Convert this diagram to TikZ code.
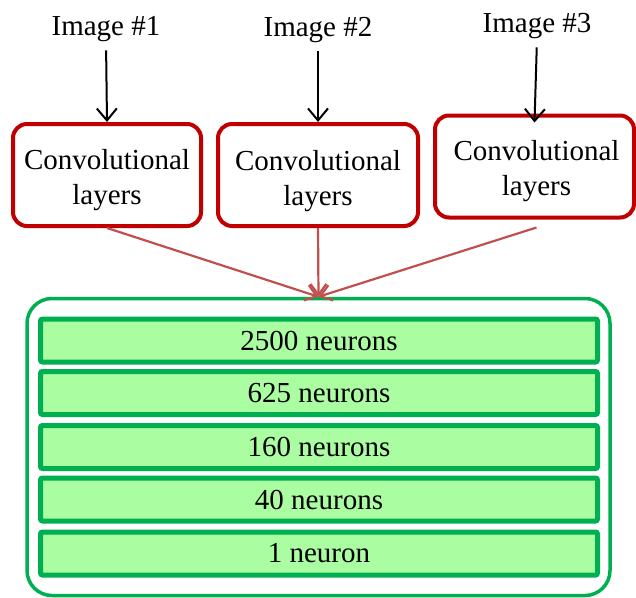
\documentclass[tikz,border=0pt]{standalone}
\usepackage{fontspec}
\setmainfont{Liberation Serif}
\usetikzlibrary{arrows.meta}
\definecolor{convred}{HTML}{C00000}
\definecolor{linkred}{HTML}{C0504D}
\definecolor{layergreen}{HTML}{00B050}
\definecolor{layerfill}{HTML}{AAFDA0}
\begin{document}
\begin{tikzpicture}[x=1pt,y=1pt,
  every node/.style={font=\fontsize{29}{35}\selectfont, inner sep=0pt},
  imglabel/.style={anchor=base},
  convbox/.style={draw=convred, line width=4pt, rounded corners=14pt, minimum height=102pt},
  convtext/.style={align=center},
  feedarrow/.style={draw=black, line width=2pt, -{Straight Barb[length=12pt,width=20pt,line width=2pt]}},
  linkarrow/.style={draw=linkred, line width=2.2pt, -{Straight Barb[length=11pt,width=16pt,line width=2.2pt]}},
  outerbox/.style={draw=layergreen, line width=3.5pt, rounded corners=25pt, minimum width=583pt, minimum height=297pt},
  layerbar/.style={draw=layergreen, fill=layerfill, line width=5pt, rounded corners=2pt, minimum width=557pt, minimum height=43pt}
]
\useasboundingbox (0,0) rectangle (636,-597);

% input labels
\node[imglabel] (img1) at (106,-35) {Image \#1};
\node[imglabel] (img2) at (318,-36) {Image \#2};
\node[imglabel] (img3) at (537,-32) {Image \#3};

% convolutional stacks
\node[convbox, minimum width=188pt] (conv1) at (107,-175) {};
\node[convbox, minimum width=200pt] (conv2) at (318,-175) {};
\node[convbox, minimum width=199pt] (conv3) at (534.5,-166.5) {};
\node[convtext] (conv1txt) at ([yshift=-5pt]conv1.center) {Convolutional\\layers};
\node[convtext] (conv2txt) at ([yshift=-6pt]conv2.center) {Convolutional\\layers};
\node[convtext] (conv3txt) at ([yshift=-5pt,xshift=2pt]conv3.center) {Convolutional\\layers};

% fully connected block
\node[outerbox] (dense) at (318.5,-447) {};
\node[layerbar] (bar1) at (319,-340.5) {2500 neurons};
\node[layerbar] (bar2) at (319,-393) {625 neurons};
\node[layerbar] (bar3) at (319,-447) {160 neurons};
\node[layerbar] (bar4) at (319,-499.5) {40 neurons};
\node[layerbar] (bar5) at (319,-553.5) {1 neuron};

% images into the convolutional stacks
\draw[feedarrow, shorten <=9pt] (img1.south) -- (conv1.north);
\draw[feedarrow, shorten <=9pt] (img2.south) -- (conv2.north);
\draw[feedarrow, shorten <=9pt] (img3.south) -- ([yshift=-9pt]conv3.north);

% stacks merged into the dense layers
\coordinate (merge) at (dense.north);
\draw[linkarrow] (conv1.south) -- (merge);
\draw[linkarrow] (conv2.south) -- (merge);
\draw[linkarrow] ([xshift=2pt,yshift=-8pt]conv3.south) -- (merge);
\end{tikzpicture}
\end{document}
